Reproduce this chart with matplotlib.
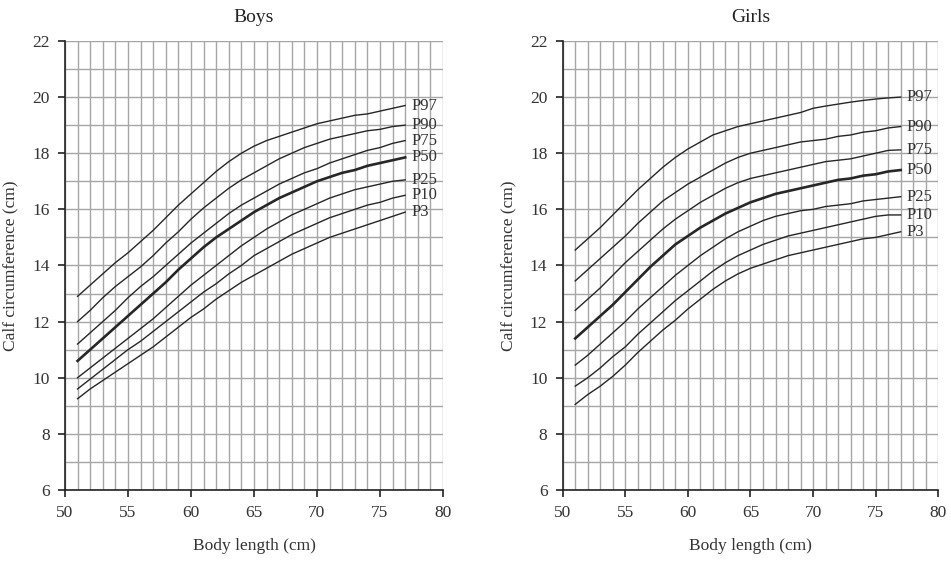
import matplotlib
matplotlib.use('Agg')
import matplotlib.pyplot as plt
from matplotlib.ticker import MultipleLocator

plt.rcParams['font.family'] = ['Liberation Serif', 'DejaVu Serif']

# Body length (cm), one point per cm
length = list(range(51, 78))
labels = ['P97', 'P90', 'P75', 'P50', 'P25', 'P10', 'P3']

# Boys calf circumference percentiles (cm)
boys_p97 = [12.9, 13.3, 13.7, 14.1, 14.45, 14.85, 15.25, 15.7, 16.15, 16.55, 16.95, 17.35, 17.7, 18.0,
            18.25, 18.45, 18.6, 18.75, 18.9, 19.05, 19.15, 19.25, 19.35, 19.4, 19.5, 19.6, 19.7]
boys_p90 = [12.0, 12.4, 12.85, 13.25, 13.6, 13.95, 14.35, 14.8, 15.2, 15.65, 16.05, 16.4, 16.75, 17.05,
            17.3, 17.55, 17.8, 18.0, 18.2, 18.35, 18.5, 18.6, 18.7, 18.8, 18.85, 18.95, 19.0]
boys_p75 = [11.2, 11.6, 12.0, 12.4, 12.85, 13.25, 13.6, 14.0, 14.4, 14.8, 15.15, 15.5, 15.85, 16.15,
            16.4, 16.65, 16.9, 17.1, 17.3, 17.45, 17.65, 17.8, 17.95, 18.1, 18.2, 18.35, 18.45]
boys_p50 = [10.6, 11.0, 11.4, 11.8, 12.2, 12.6, 13.0, 13.4, 13.85, 14.25, 14.65, 15.0, 15.3, 15.6,
            15.9, 16.15, 16.4, 16.6, 16.8, 17.0, 17.15, 17.3, 17.4, 17.55, 17.65, 17.75, 17.85]
boys_p25 = [10.0, 10.35, 10.7, 11.05, 11.4, 11.75, 12.1, 12.5, 12.9, 13.3, 13.65, 14.0, 14.35, 14.7,
            15.0, 15.3, 15.55, 15.8, 16.0, 16.2, 16.4, 16.55, 16.7, 16.8, 16.9, 17.0, 17.05]
boys_p10 = [9.6, 9.95, 10.3, 10.65, 11.0, 11.3, 11.65, 12.0, 12.35, 12.7, 13.05, 13.35, 13.7, 14.0,
            14.35, 14.6, 14.85, 15.1, 15.3, 15.5, 15.7, 15.85, 16.0, 16.15, 16.25, 16.4, 16.5]
boys_p3 = [9.25, 9.6, 9.9, 10.2, 10.5, 10.8, 11.1, 11.45, 11.8, 12.15, 12.45, 12.8, 13.1, 13.4,
           13.65, 13.9, 14.15, 14.4, 14.6, 14.8, 15.0, 15.15, 15.3, 15.45, 15.6, 15.75, 15.9]

# Girls calf circumference percentiles (cm)
girls_p97 = [14.55, 14.95, 15.35, 15.8, 16.25, 16.7, 17.1, 17.5, 17.85, 18.15, 18.4, 18.65, 18.8, 18.95,
             19.05, 19.15, 19.25, 19.35, 19.45, 19.6, 19.68, 19.75, 19.82, 19.88, 19.93, 19.97, 20.0]
girls_p90 = [13.45, 13.85, 14.25, 14.65, 15.05, 15.5, 15.9, 16.3, 16.6, 16.9, 17.15, 17.4, 17.65, 17.85,
             18.0, 18.1, 18.2, 18.3, 18.4, 18.45, 18.5, 18.6, 18.65, 18.75, 18.8, 18.9, 18.95]
girls_p75 = [12.4, 12.8, 13.2, 13.65, 14.1, 14.5, 14.9, 15.3, 15.65, 15.95, 16.25, 16.5, 16.75, 16.95,
             17.1, 17.2, 17.3, 17.4, 17.5, 17.6, 17.7, 17.75, 17.8, 17.9, 18.0, 18.1, 18.12]
girls_p50 = [11.4, 11.8, 12.2, 12.6, 13.05, 13.5, 13.95, 14.35, 14.75, 15.05, 15.35, 15.6, 15.85, 16.05,
             16.25, 16.4, 16.55, 16.65, 16.75, 16.85, 16.95, 17.05, 17.1, 17.2, 17.25, 17.35, 17.4]
girls_p25 = [10.45, 10.8, 11.2, 11.6, 12.0, 12.45, 12.85, 13.25, 13.65, 14.0, 14.35, 14.65, 14.95, 15.2,
             15.4, 15.6, 15.75, 15.85, 15.95, 16.0, 16.1, 16.15, 16.2, 16.3, 16.35, 16.4, 16.45]
girls_p10 = [9.7, 10.0, 10.35, 10.75, 11.1, 11.55, 11.95, 12.35, 12.75, 13.1, 13.45, 13.8, 14.1, 14.35,
             14.55, 14.75, 14.9, 15.05, 15.15, 15.25, 15.35, 15.45, 15.55, 15.65, 15.75, 15.8, 15.8]
girls_p3 = [9.05, 9.4, 9.7, 10.05, 10.45, 10.9, 11.3, 11.7, 12.05, 12.45, 12.8, 13.15, 13.45, 13.7,
            13.9, 14.05, 14.2, 14.35, 14.45, 14.55, 14.65, 14.75, 14.85, 14.95, 15.0, 15.1, 15.2]

boys = [boys_p97, boys_p90, boys_p75, boys_p50, boys_p25, boys_p10, boys_p3]
girls = [girls_p97, girls_p90, girls_p75, girls_p50, girls_p25, girls_p10, girls_p3]


def draw_panel(ax, title, curves):
    # grid every 1 cm, labelled ticks every 5 cm / 2 cm
    ax.set_xlim(50, 80)
    ax.set_ylim(6, 22)
    ax.xaxis.set_major_locator(MultipleLocator(5))
    ax.xaxis.set_minor_locator(MultipleLocator(1))
    ax.yaxis.set_major_locator(MultipleLocator(2))
    ax.yaxis.set_minor_locator(MultipleLocator(1))
    ax.grid(True, which='both', color='#a6a6a6', linewidth=1.0)
    ax.set_axisbelow(True)
    ax.tick_params(which='minor', length=0)
    ax.tick_params(which='major', direction='out', length=5, width=1.2, color='#222222',
                   labelsize=12.5, labelcolor='#333333', pad=6)
    for side in ['top', 'right']:
        ax.spines[side].set_visible(False)
    for side in ['left', 'bottom']:
        ax.spines[side].set_color('#222222')
        ax.spines[side].set_linewidth(1.2)

    for name, vals in zip(labels, curves):
        lw = 1.9 if name == 'P50' else 1.0
        ax.plot(length, vals, color='#262626', linewidth=lw, clip_on=False)
        ax.text(length[-1] + 0.5, vals[-1], name, va='center', ha='left',
                fontsize=12, color='#333333')

    ax.set_title(title, fontsize=14, color='#222222', pad=14)
    ax.set_xlabel('Body length (cm)', fontsize=12.5, color='#333333', labelpad=12)
    ax.set_ylabel('Calf circumference (cm)', fontsize=12.5, color='#333333', labelpad=10)


fig = plt.figure(figsize=(9.51, 5.61), dpi=100)
ax1 = fig.add_axes([0.0683, 0.1266, 0.3975, 0.8004])
ax2 = fig.add_axes([0.5917, 0.1266, 0.3949, 0.8004])

draw_panel(ax1, 'Boys', boys)
draw_panel(ax2, 'Girls', girls)

fig.savefig('out.png', dpi=100)
